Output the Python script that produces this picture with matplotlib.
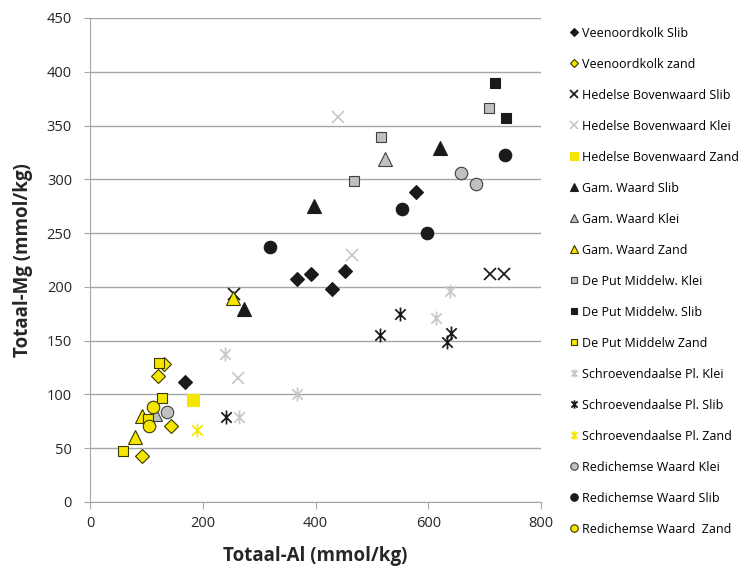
import matplotlib
matplotlib.use('Agg')
import matplotlib.pyplot as plt
from matplotlib.path import Path

plt.rcParams['font.family'] = ['Open Sans', 'DejaVu Sans']

# ------------------------------------------------------------
# Data (Totaal-Al, Totaal-Mg in mmol/kg)
# ------------------------------------------------------------

veen_slib_al = [169, 367, 392, 430, 452, 579]
veen_slib_mg = [112, 207, 212, 198, 215, 288]
veen_zand_al = [121, 93, 143, 131]
veen_zand_mg = [117, 43, 71, 128]
hedel_slib_al = [710, 734, 255]
hedel_slib_mg = [212, 212, 193]
hedel_klei_al = [440, 465, 263]
hedel_klei_mg = [358, 230, 115]
hedel_zand_al = [182]
hedel_zand_mg = [95]
gam_slib_al = [398, 621, 273]
gam_slib_mg = [275, 329, 179]
gam_klei_al = [523, 116]
gam_klei_mg = [319, 82]
gam_zand_al = [79, 93, 253]
gam_zand_mg = [60, 80, 190]
put_klei_al = [468, 516, 708]
put_klei_mg = [298, 339, 366]
put_slib_al = [719, 737]
put_slib_mg = [390, 357]
put_zand_al = [59, 127, 122, 102]
put_zand_mg = [47, 97, 129, 77]
schr_klei_al = [239, 368, 638, 613, 264]
schr_klei_mg = [138, 100, 196, 171, 79]
schr_slib_al = [241, 514, 549, 640, 633]
schr_slib_mg = [79, 155, 175, 157, 149]
schr_zand_al = [189]
schr_zand_mg = [67]
red_klei_al = [658, 685, 136]
red_klei_mg = [306, 296, 84]
red_slib_al = [736, 553, 597, 320]
red_slib_mg = [323, 272, 250, 237]
red_zand_al = [111, 105]
red_zand_mg = [88, 71]

# ------------------------------------------------------------
# Styles
# ------------------------------------------------------------

black = '#1a1a1a'
grey = '#c0c0c0'
light = '#c8c8c8'
yellow = '#f5e600'
yedge = '#3a3a00'

# Excel-like asterisk: X plus a vertical bar
asterisk = Path([(0, -1), (0, 1), (-0.75, -0.75), (0.75, 0.75), (-0.75, 0.75), (0.75, -0.75)],
                [Path.MOVETO, Path.LINETO] * 3)

series = [
    ('Veenoordkolk Slib', veen_slib_al, veen_slib_mg, 'D', black, black, 7.5),
    ('Veenoordkolk zand', veen_zand_al, veen_zand_mg, 'D', yellow, yedge, 7.5),
    ('Hedelse Bovenwaard Slib', hedel_slib_al, hedel_slib_mg, 'x', black, black, 8.5),
    ('Hedelse Bovenwaard Klei', hedel_klei_al, hedel_klei_mg, 'x', light, light, 8.5),
    ('Hedelse Bovenwaard Zand', hedel_zand_al, hedel_zand_mg, 's', yellow, yellow, 9),
    ('Gam. Waard Slib', gam_slib_al, gam_slib_mg, '^', black, black, 9.5),
    ('Gam. Waard Klei', gam_klei_al, gam_klei_mg, '^', grey, '#404040', 9.5),
    ('Gam. Waard Zand', gam_zand_al, gam_zand_mg, '^', yellow, yedge, 9.5),
    ('De Put Middelw. Klei', put_klei_al, put_klei_mg, 's', grey, '#404040', 7.5),
    ('De Put Middelw. Slib', put_slib_al, put_slib_mg, 's', black, black, 7.5),
    ('De Put Middelw Zand', put_zand_al, put_zand_mg, 's', yellow, yedge, 7.5),
    ('Schroevendaalse Pl. Klei', schr_klei_al, schr_klei_mg, asterisk, light, light, 10),
    ('Schroevendaalse Pl. Slib', schr_slib_al, schr_slib_mg, asterisk, black, black, 10),
    ('Schroevendaalse Pl. Zand', schr_zand_al, schr_zand_mg, asterisk, yellow, yellow, 10),
    ('Redichemse Waard Klei', red_klei_al, red_klei_mg, 'o', grey, '#404040', 9),
    ('Redichemse Waard Slib', red_slib_al, red_slib_mg, 'o', black, black, 9),
    ('Redichemse Waard  Zand', red_zand_al, red_zand_mg, 'o', yellow, yedge, 9),
]

# ------------------------------------------------------------
# Plot
# ------------------------------------------------------------

fig = plt.figure(figsize=(7.39, 5.66), dpi=100)
ax = fig.add_axes([0.1218, 0.1131, 0.6103, 0.8551])

handles = []
for name, x, y, m, fc, ec, ms in series:
    line_based = m == 'x' or isinstance(m, Path)
    h, = ax.plot(x, y, linestyle='none', marker=m, markersize=ms,
                 markerfacecolor=fc, markeredgecolor=ec,
                 markeredgewidth=1.25 if line_based else 0.8, label=name)
    handles.append(h)

ax.set_xlim(0, 800)
ax.set_ylim(0, 450)
ax.set_xticks(range(0, 801, 200))
ax.set_yticks(range(0, 451, 50))
ax.yaxis.grid(True, color='#a6a6a6', linewidth=1)
ax.set_axisbelow(True)
for s in ['top', 'right']:
    ax.spines[s].set_visible(False)
for s in ['left', 'bottom']:
    ax.spines[s].set_color('#a6a6a6')
ax.tick_params(axis='x', colors='#a6a6a6', length=5, labelcolor='#262626', labelsize=10.5, pad=5)
ax.tick_params(axis='y', colors='#a6a6a6', length=4, labelcolor='#262626', labelsize=10.5, pad=9)

ax.set_xlabel('Totaal-Al (mmol/kg)', fontsize=13.5, fontweight='bold', color='#262626', labelpad=11)
ax.set_ylabel('Totaal-Mg (mmol/kg)', fontsize=13.5, fontweight='bold', color='#262626', labelpad=10)

fig.legend(handles=handles, loc='upper left', bbox_to_anchor=(0.765, 0.962),
           frameon=False, fontsize=9, markerscale=0.6, labelspacing=1.44,
           handlelength=0.6, handletextpad=0.3, borderaxespad=0)

fig.savefig('out.png', dpi=100)
